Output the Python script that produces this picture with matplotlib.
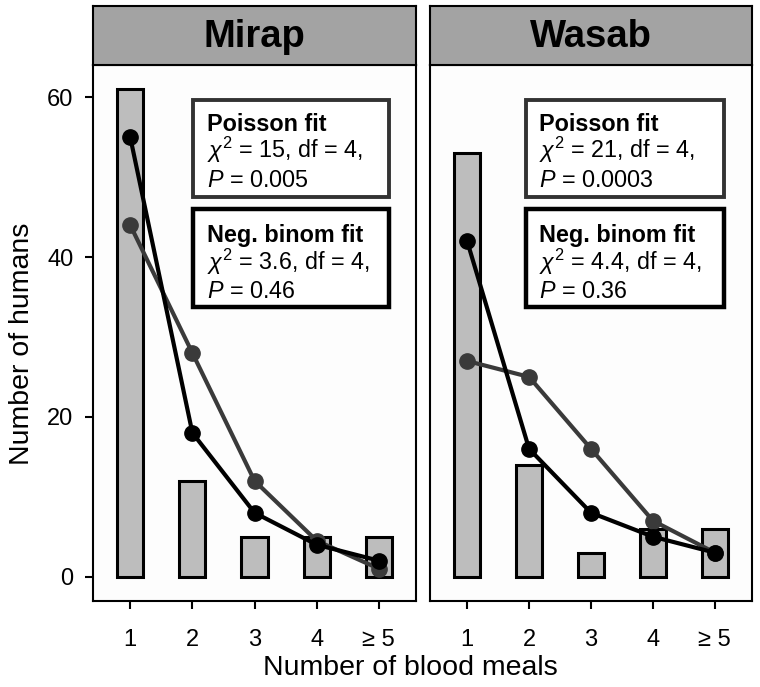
import matplotlib
matplotlib.use("Agg")
import matplotlib.pyplot as plt
from matplotlib.patches import Rectangle

plt.rcParams["font.family"] = ["Liberation Sans", "DejaVu Sans"]
plt.rcParams["mathtext.fontset"] = "custom"
plt.rcParams["mathtext.rm"] = "Liberation Sans"
plt.rcParams["mathtext.it"] = "Liberation Sans:italic"

# data
meals = [1, 2, 3, 4, 5]
meal_labels = ["1", "2", "3", "4", "\u2265 5"]
sites = ["Mirap", "Wasab"]
observed = {
    "Mirap": [61, 12, 5, 5, 5],
    "Wasab": [53, 14, 3, 6, 6],
}
poisson_fit = {
    "Mirap": [44, 28, 12, 4.5, 1],
    "Wasab": [27, 25, 16, 7, 3],
}
negbin_fit = {
    "Mirap": [55, 18, 8, 4, 2],
    "Wasab": [42, 16, 8, 5, 3],
}
poisson_stats = {
    "Mirap": ("15", "0.005"),
    "Wasab": ("21", "0.0003"),
}
negbin_stats = {
    "Mirap": ("3.6", "0.46"),
    "Wasab": ("4.4", "0.36"),
}
df_value = 4

W, H = 760, 687
fig = plt.figure(figsize=(W / 100, H / 100), dpi=100)

panel_left = [93, 430]
panel_right = [416, 752]
top_px, bottom_px, strip_top_px = 65, 601, 6


def frac(x0, y0, x1, y1):
    return [x0 / W, 1 - y1 / H, (x1 - x0) / W, (y1 - y0) / H]


box_x = {"Mirap": (0.31, 0.916), "Wasab": (0.298, 0.912)}

for i, site in enumerate(sites):
    ax = fig.add_axes(frac(panel_left[i], top_px, panel_right[i], bottom_px))
    ax.bar(meals, observed[site], width=0.42, color="#bdbdbd",
           edgecolor="black", linewidth=2.2, zorder=2)
    ax.plot(meals, poisson_fit[site], color="#3a3a3a", lw=3,
            marker="o", ms=11, zorder=3)
    ax.plot(meals, negbin_fit[site], color="black", lw=3,
            marker="o", ms=11, zorder=4)

    ax.set_xlim(0.4, 5.6)
    ax.set_ylim(-3.05, 64.05)
    ax.set_xticks(meals)
    ax.set_xticklabels(meal_labels)
    ax.set_yticks([0, 20, 40, 60])
    ax.tick_params(length=6, width=1.5, labelsize=17, pad=14, colors="black")
    ax.tick_params(axis="y", pad=8)
    if i > 0:
        ax.tick_params(axis="y", left=False, labelleft=False)
    for sp in ax.spines.values():
        sp.set_linewidth(1.5)
    ax.set_facecolor("#fdfdfd")

    # stat boxes
    bx0, bx1 = box_x[site]
    ax.add_patch(Rectangle((bx0, 0.753), bx1 - bx0, 0.182, transform=ax.transAxes,
                           fill=True, facecolor="white", edgecolor="#333333",
                           lw=2.8, zorder=5))
    ax.add_patch(Rectangle((bx0, 0.548), bx1 - bx0, 0.183, transform=ax.transAxes,
                           fill=True, facecolor="white", edgecolor="black",
                           lw=3.2, zorder=5))
    tx = bx0 + 0.042
    chi_p, p_p = poisson_stats[site]
    chi_n, p_n = negbin_stats[site]
    kw = dict(transform=ax.transAxes, fontsize=16.8, va="baseline", ha="left", zorder=6)
    ax.text(tx, 0.877, "Poisson fit", fontweight="bold", **kw)
    ax.text(tx, 0.826, rf"$\chi^2$ = {chi_p}, df = {df_value},", **kw)
    ax.text(tx, 0.772, rf"$P$ = {p_p}", **kw)
    ax.text(tx, 0.669, "Neg. binom fit", fontweight="bold", **kw)
    ax.text(tx, 0.617, rf"$\chi^2$ = {chi_n}, df = {df_value},", **kw)
    ax.text(tx, 0.566, rf"$P$ = {p_n}", **kw)

    # facet strip
    sax = fig.add_axes(frac(panel_left[i], strip_top_px, panel_right[i], top_px))
    sax.set_facecolor("#a3a3a3")
    sax.set_xticks([])
    sax.set_yticks([])
    for sp in sax.spines.values():
        sp.set_linewidth(1.5)
    sax.text(0.5, 0.47, site, transform=sax.transAxes, ha="center", va="center",
             fontsize=27.5, fontweight="bold")

fig.text(0.54, 0.028, "Number of blood meals", ha="center", va="center", fontsize=20.5)
fig.text(0.029, 0.50, "Number of humans", ha="center", va="center",
         rotation=90, fontsize=20.5)

fig.savefig("out.png", dpi=100, facecolor="white")
